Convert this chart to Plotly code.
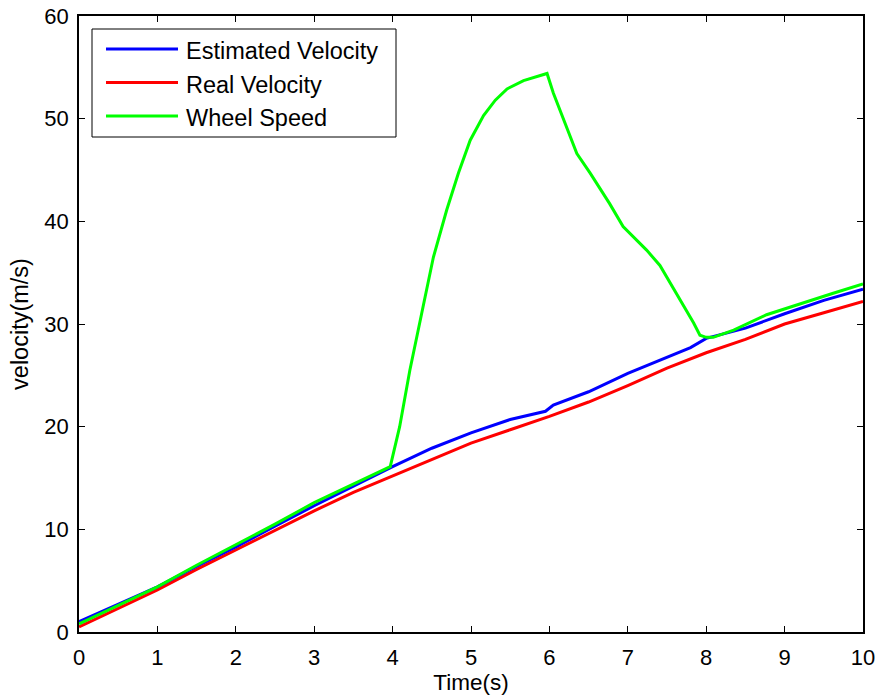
import plotly.graph_objects as go

# ---- data ----
t_real = [0, 0.5, 1, 1.5, 2, 2.5, 3, 3.5, 4, 4.5, 5, 5.5, 6, 6.5, 7, 7.5, 8, 8.5, 9, 9.5, 10]
real_velocity = [0.5, 2.3, 4.1, 6.1, 8.0, 9.9, 11.8, 13.6, 15.2, 16.8, 18.4, 19.7, 21.0, 22.4, 24.0, 25.7, 27.2, 28.5, 30.0, 31.1, 32.2]

t_est = [0, 0.5, 1, 1.5, 2, 2.5, 3, 3.5, 4, 4.5, 5, 5.5, 5.95, 6.05, 6.5, 7, 7.5, 7.8, 8.0, 8.5, 9, 9.5, 10]
est_velocity = [1.0, 2.7, 4.4, 6.4, 8.3, 10.3, 12.3, 14.2, 16.1, 17.9, 19.4, 20.7, 21.5, 22.1, 23.4, 25.2, 26.8, 27.7, 28.6, 29.6, 31.0, 32.3, 33.4]

t_wheel = [0, 0.5, 1, 1.5, 2, 2.5, 3, 3.5, 3.97, 4.09, 4.22, 4.37, 4.52, 4.69, 4.84, 4.99, 5.16, 5.31,
           5.46, 5.67, 5.97, 6.05, 6.20, 6.35, 6.52, 6.77, 6.94, 7.24, 7.41, 7.67, 7.84, 7.92, 8.0,
           8.09, 8.35, 8.77, 9.2, 9.62, 10.0]
wheel_speed = [0.8, 2.6, 4.4, 6.5, 8.5, 10.5, 12.6, 14.4, 16.1, 20.0, 25.5, 31.0, 36.5, 41.1, 44.7, 47.9, 50.3, 51.8,
               52.9, 53.7, 54.4, 52.5, 49.5, 46.6, 44.7, 41.7, 39.5, 37.2, 35.7, 32.3, 30.1, 28.9, 28.7,
               28.7, 29.4, 30.9, 32.0, 33.0, 33.9]

series_names = ["Estimated Velocity", "Real Velocity", "Wheel Speed"]
series_colors = ["#0000FF", "#FF0000", "#00FF00"]

x_ticks = list(range(0, 11))
y_ticks = [0, 10, 20, 30, 40, 50, 60]

FONT = "Arial, Liberation Sans, sans-serif"

fig = go.Figure()
fig.add_trace(go.Scatter(x=t_real, y=real_velocity, mode="lines", name=series_names[1],
                         line=dict(color=series_colors[1], width=3), showlegend=False))
fig.add_trace(go.Scatter(x=t_est, y=est_velocity, mode="lines", name=series_names[0],
                         line=dict(color=series_colors[0], width=3), showlegend=False))
fig.add_trace(go.Scatter(x=t_wheel, y=wheel_speed, mode="lines", name=series_names[2],
                         line=dict(color=series_colors[2], width=3), showlegend=False))

W, H = 878, 700
L, T = 79, 16
R = W - 863
B = H - 632
pw, ph = W - L - R, H - T - B

def px(xpix):  # screen pixel -> paper
    return (xpix - L) / pw

def py(ypix):
    return (T + ph - ypix) / ph

shapes = []
annotations = []
# manual legend
shapes.append(dict(type="rect", xref="paper", yref="paper",
                   x0=px(92), x1=px(396), y0=py(137), y1=py(29),
                   line=dict(color="black", width=1), fillcolor="white", layer="above"))
for i, (name, col) in enumerate(zip(series_names, series_colors)):
    yy = 49 + i * 33.5
    shapes.append(dict(type="line", xref="paper", yref="paper",
                       x0=px(106), x1=px(178), y0=py(yy), y1=py(yy),
                       line=dict(color=col, width=3), layer="above"))
    annotations.append(dict(text=name, xref="paper", yref="paper", x=px(184), y=py(yy + 2),
                            xanchor="left", yanchor="middle", showarrow=False,
                            font=dict(family=FONT, size=23.5, color="black")))

axis_common = dict(showline=True, linecolor="black", linewidth=1.5, mirror="allticks",
                   ticks="inside", ticklen=6, tickwidth=1, tickcolor="black",
                   showgrid=False, zeroline=False, automargin=False,
                   ticklabeloverflow="allow",
                   tickfont=dict(family=FONT, size=22, color="black"))

fig.update_layout(
    width=W, height=H,
    margin=dict(l=L, r=R, t=T, b=B),
    plot_bgcolor="white", paper_bgcolor="white",
    xaxis=dict(range=[0, 10], tickvals=x_ticks, ticklabelstandoff=5,
               title=dict(text="Time(s)", font=dict(family=FONT, size=22.5, color="black"), standoff=0),
               **axis_common),
    yaxis=dict(range=[0, 60], tickvals=y_ticks, ticklabelstandoff=4,
               title=dict(text="velocity(m/s)", font=dict(family=FONT, size=23.5, color="black"), standoff=9),
               **axis_common),
    shapes=shapes, annotations=annotations,
    showlegend=False,
)

fig.write_html("out.html",
               config={"displayModeBar": False},
               post_script="document.body.style.margin='0';document.body.style.overflow='hidden';")
